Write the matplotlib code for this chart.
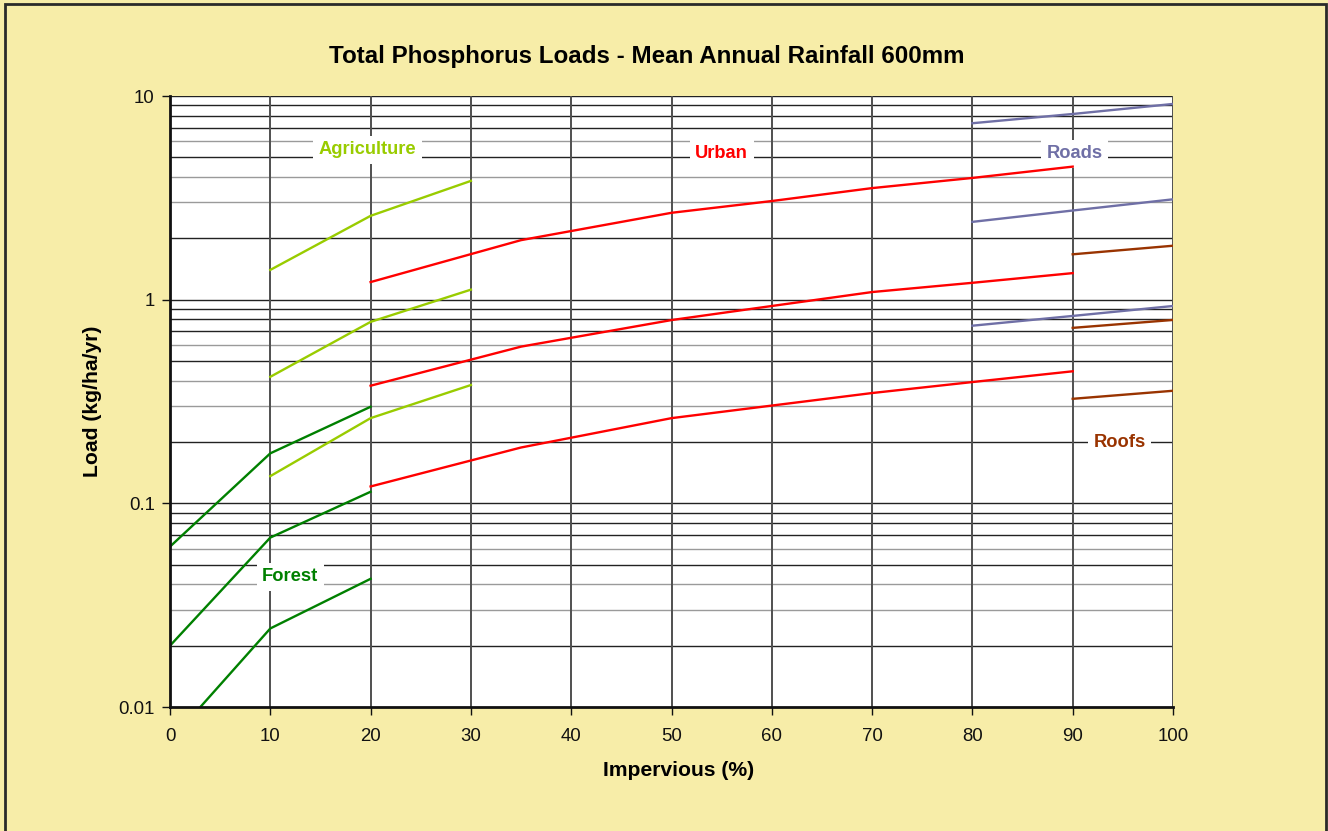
import matplotlib
matplotlib.use("Agg")
import matplotlib.pyplot as plt
from matplotlib.patches import Rectangle
import numpy as np

plt.rcParams['font.family'] = ['Liberation Sans', 'DejaVu Sans']

# Impervious (%) and total phosphorus loads (kg/ha/yr), upper / middle / lower curves
forest_x = [0, 10, 20]
forest_hi = [0.0613, 0.176, 0.298]
forest_mid = [0.0200, 0.0679, 0.114]
forest_lo = [0.0068, 0.0243, 0.0426]

agri_x = [10, 20, 30]
agri_hi = [1.40, 2.58, 3.83]
agri_mid = [0.418, 0.778, 1.12]
agri_lo = [0.136, 0.262, 0.381]

urban_x = [20, 35, 50, 60, 70, 80, 90]
urban_hi = [1.22, 1.96, 2.67, 3.05, 3.53, 3.96, 4.50]
urban_mid = [0.378, 0.588, 0.794, 0.931, 1.09, 1.21, 1.35]
urban_lo = [0.121, 0.188, 0.262, 0.302, 0.348, 0.394, 0.445]

roads_x = [80, 90, 100]
roads_hi = [7.35, 8.16, 9.14]
roads_mid = [2.41, 2.74, 3.11]
roads_lo = [0.745, 0.832, 0.931]

roofs_x = [90, 100]
roofs_hi = [1.67, 1.84]
roofs_mid = [0.727, 0.795]
roofs_lo = [0.326, 0.357]

x_ticks = [0, 10, 20, 30, 40, 50, 60, 70, 80, 90, 100]
y_ticks = [0.01, 0.1, 1, 10]
y_tick_labels = ["0.01", "0.1", "1", "10"]

BG = "#F7EDA8"
C_FOREST = "#008000"
C_AGRI = "#99CC00"
C_URBAN = "#FF0000"
C_ROADS = "#6F6FA6"
C_ROOFS = "#993300"

W, H = 1328, 831
fig = plt.figure(figsize=(W / 100, H / 100), dpi=100, facecolor=BG)

# outer frame of the chart area
fig.patches.append(Rectangle((5 / W, -0.05), (1326 - 5) / W, 1 - 4 / H + 0.05,
                             transform=fig.transFigure, fill=False,
                             edgecolor="#2a2a2a", linewidth=2.0, zorder=10))

ax = fig.add_axes([170 / W, 1 - 707 / H, (1173 - 170) / W, (707 - 96) / H])
ax.set_facecolor("white")
ax.set_yscale("log")
ax.set_xlim(0, 100)
ax.set_ylim(0.01, 10)

# horizontal grid: decades and sub-decade lines
for dec in [0.01, 0.1, 1]:
    for m in range(2, 10):
        v = dec * m
        col = "#9a9a9a" if m in (3, 4, 6) else "#222222"
        ax.axhline(v, color=col, lw=1.0, zorder=1)
for v in [0.1, 1, 10]:
    ax.axhline(v, color="#222222", lw=1.0, zorder=1)
# vertical grid
for xv in x_ticks[1:]:
    ax.axvline(xv, color="#505050", lw=1.4, zorder=1)

lw = 1.7
for ys in (forest_hi, forest_mid, forest_lo):
    ax.plot(forest_x, ys, color=C_FOREST, lw=lw, zorder=4)
for ys in (agri_hi, agri_mid, agri_lo):
    ax.plot(agri_x, ys, color=C_AGRI, lw=lw, zorder=4)
for ys in (urban_hi, urban_mid, urban_lo):
    ax.plot(urban_x, ys, color=C_URBAN, lw=lw, zorder=4)
for ys in (roads_hi, roads_mid, roads_lo):
    ax.plot(roads_x, ys, color=C_ROADS, lw=lw, zorder=4)
for ys in (roofs_hi, roofs_mid, roofs_lo):
    ax.plot(roofs_x, ys, color=C_ROOFS, lw=lw, zorder=4)

box = dict(facecolor="white", edgecolor="none", pad=4)
lab_kw = dict(fontsize=13.2, fontweight="bold", ha="center", va="center",
              bbox=box, zorder=3)
ax.text(19.7, 5.45, "Agriculture", color=C_AGRI, **lab_kw)
ax.text(55.0, 5.2, "Urban", color=C_URBAN, **lab_kw)
ax.text(90.2, 5.2, "Roads", color=C_ROADS, **lab_kw)
ax.text(94.7, 0.198, "Roofs", color=C_ROOFS, **lab_kw)
ax.text(12.0, 0.0435, "Forest", color=C_FOREST, **lab_kw)

for s in ("top", "right"):
    ax.spines[s].set_visible(False)
for s in ("left", "bottom"):
    ax.spines[s].set_linewidth(2.0)
    ax.spines[s].set_color("#111111")
    ax.spines[s].set_zorder(5)

ax.set_xticks(x_ticks)
ax.set_xticklabels([str(v) for v in x_ticks])
ax.set_yticks(y_ticks)
ax.set_yticklabels(y_tick_labels)
ax.yaxis.set_minor_locator(matplotlib.ticker.NullLocator())
ax.tick_params(axis="both", direction="out", length=6, width=1.0,
               labelsize=13.4, colors="#111111")
ax.tick_params(axis="x", pad=9)
ax.tick_params(axis="y", pad=5)

ax.set_xlabel("Impervious (%)", fontsize=15.2, fontweight="bold")
ax.xaxis.set_label_coords(0.5075, -0.088)
ax.set_ylabel("Load (kg/ha/yr)", fontsize=15.2, fontweight="bold", labelpad=12)

fig.text(647 / W, 1 - 56 / H, "Total Phosphorus Loads - Mean Annual Rainfall 600mm",
         fontsize=17.4, fontweight="bold", ha="center", va="center")

fig.savefig("out.png", dpi=100, facecolor=BG)
